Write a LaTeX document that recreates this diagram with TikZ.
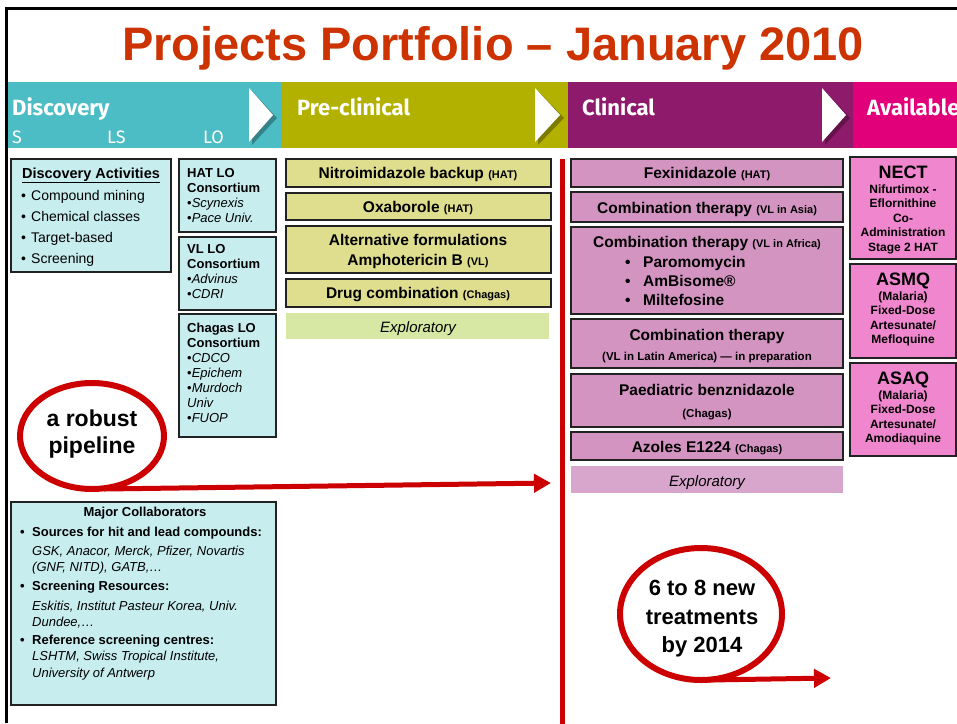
\documentclass[tikz,border=0pt]{standalone}
\usepackage{fontspec}
\setmainfont{Liberation Sans}
\newfontfamily\hdrfont{Fira Sans}
\usetikzlibrary{arrows.meta,shapes.geometric}
\definecolor{titlered}{RGB}{204,51,0}
\definecolor{tealh}{RGB}{76,189,196}
\definecolor{oliveh}{RGB}{179,177,0}
\definecolor{purpleh}{RGB}{142,26,107}
\definecolor{magentah}{RGB}{226,0,122}
\definecolor{tealfill}{RGB}{200,237,239}
\definecolor{olivefill}{RGB}{222,222,142}
\definecolor{oliveexpfill}{RGB}{214,232,164}
\definecolor{mauvefill}{RGB}{212,148,194}
\definecolor{mauveexpfill}{RGB}{216,166,204}
\definecolor{pinkfill}{RGB}{240,134,206}
\definecolor{boxline}{RGB}{34,34,34}
\definecolor{redl}{RGB}{204,0,0}
\newcommand\fsz[1]{\fontsize{#1}{#1}\selectfont}
\newcommand\bx[6]{\node[#6, anchor=north west, minimum width=#4-#2, minimum height=#5-#3] (#1) at (#2,#3) {};}
\newcommand\tx[5]{\node[anchor=#4, inner sep=0pt] (#1) at (#2,#3) {#5};}
\newcommand\bul{\makebox[10pt][l]{•}}
\newcommand\bulw{\makebox[12pt][l]{•}}
\begin{document}
\begin{tikzpicture}[x=1pt,y=-1pt,
  boxbase/.style={inner sep=0pt, outer sep=0pt},
  tealbox/.style={boxbase, draw=boxline, line width=1.3pt, fill=tealfill},
  olivebox/.style={boxbase, draw=boxline, line width=1.3pt, fill=olivefill},
  oliveexp/.style={boxbase, fill=oliveexpfill},
  mauvebox/.style={boxbase, draw=boxline, line width=1.3pt, fill=mauvefill},
  mauveexp/.style={boxbase, fill=mauveexpfill},
  pinkbox/.style={boxbase, draw=boxline, line width=1.3pt, fill=pinkfill},
  callout/.style={draw=redl, line width=6pt, ellipse, inner sep=0pt, outer sep=0pt},
  bigarrow/.style={draw=redl, line width=5pt, -{Triangle[length=17pt,width=18pt]}},
  hdrtri/.style={fill=white},
  hdrshadow/.style={fill=black, opacity=0.3}
]
\clip (0,0) rectangle (957,723);
\fill[white] (0,0) rectangle (957,723);

% frame
\draw[line width=3pt] (6,723) -- (6,8) -- (960,8);

% title
\tx{title}{493}{60}{base}{\color{titlered}\bfseries\fsz{47}Projects Portfolio – January 2010}

% header bar
\fill[tealh] (7.5,82) rectangle (282,148);
\fill[oliveh] (282,82) rectangle (568,148);
\fill[purpleh] (568,82) rectangle (853,148);
\fill[magentah] (853,82) rectangle (960,148);
\fill[hdrshadow] (252,91) -- (252,145) -- (277,118) -- cycle;
\fill[hdrtri] (249,88) -- (249,142) -- (273,115) -- cycle;
\fill[hdrshadow] (538,91) -- (538,145) -- (564,118) -- cycle;
\fill[hdrtri] (535,88) -- (535,142) -- (560,115) -- cycle;
\fill[hdrshadow] (825,91) -- (825,145) -- (850,118) -- cycle;
\fill[hdrtri] (822,88) -- (822,142) -- (846,115) -- cycle;
\tx{hdisc}{12}{115}{base west}{\color{white}\hdrfont\bfseries\fsz{22}Discovery}
\tx{hs}{12}{143}{base west}{\color{white}\hdrfont\fsz{18}S}
\tx{hls}{107}{143}{base west}{\color{white}\hdrfont\fsz{18}LS}
\tx{hlo}{203}{143}{base west}{\color{white}\hdrfont\fsz{18}LO}
\tx{hpre}{297}{115}{base west}{\color{white}\hdrfont\bfseries\fsz{22}Pre-clinical}
\tx{hclin}{582}{115}{base west}{\color{white}\hdrfont\bfseries\fsz{22}Clinical}
\tx{havail}{867}{115}{base west}{\color{white}\hdrfont\bfseries\fsz{22}Available}

% Discovery activities
\bx{da}{11}{159}{171}{272}{tealbox}
\tx{da0}{91}{178}{base}{\bfseries\fsz{14.5}\underline{Discovery Activities}}
\tx{da1}{21}{200}{base west}{\fsz{14}\bul Compound mining}
\tx{da2}{21}{221}{base west}{\fsz{14}\bul Chemical classes}
\tx{da3}{21}{242}{base west}{\fsz{14}\bul Target-based}
\tx{da4}{21}{263}{base west}{\fsz{14}\bul Screening}

% LO consortia
\bx{hat}{179}{159}{276}{232}{tealbox}
\tx{hat1}{187}{177}{base west}{\bfseries\fsz{13}HAT LO}
\tx{hat2}{187}{192}{base west}{\bfseries\fsz{13}Consortium}
\tx{hat3}{187}{207}{base west}{\fsz{13}•\textit{Scynexis}}
\tx{hat4}{187}{222}{base west}{\fsz{13}•\textit{Pace Univ.}}

\bx{vl}{179}{237}{276}{310}{tealbox}
\tx{vl1}{187}{253}{base west}{\bfseries\fsz{13}VL LO}
\tx{vl2}{187}{268}{base west}{\bfseries\fsz{13}Consortium}
\tx{vl3}{187}{283}{base west}{\fsz{13}•\textit{Advinus}}
\tx{vl4}{187}{298}{base west}{\fsz{13}•\textit{CDRI}}

\bx{chg}{179}{314}{276}{437}{tealbox}
\tx{ch1}{187}{332}{base west}{\bfseries\fsz{13}Chagas LO}
\tx{ch2}{187}{347}{base west}{\bfseries\fsz{13}Consortium}
\tx{ch3}{187}{362}{base west}{\fsz{13}•\textit{CDCO}}
\tx{ch4}{187}{377}{base west}{\fsz{13}•\textit{Epichem}}
\tx{ch5}{187}{392}{base west}{\fsz{13}•\textit{Murdoch}}
\tx{ch6}{187}{407}{base west}{\fsz{13}\textit{Univ}}
\tx{ch7}{187}{422}{base west}{\fsz{13}•\textit{FUOP}}

% Major collaborators
\bx{mc}{11}{502}{276}{705}{tealbox}
\tx{mc0}{145}{516}{base}{\bfseries\fsz{13}Major Collaborators}
\tx{mc1}{20}{536}{base west}{\bfseries\fsz{13}\bulw Sources for hit and lead compounds:}
\tx{mc2}{32}{555}{base west}{\itshape\fsz{13}GSK, Anacor, Merck, Pfizer, Novartis}
\tx{mc3}{32}{571}{base west}{\itshape\fsz{13}(GNF, NITD), GATB,…}
\tx{mc4}{20}{590}{base west}{\bfseries\fsz{13}\bulw Screening Resources:}
\tx{mc5}{32}{610}{base west}{\itshape\fsz{13}Eskitis, Institut Pasteur Korea, Univ.}
\tx{mc6}{32}{626}{base west}{\itshape\fsz{13}Dundee,…}
\tx{mc7}{20}{644}{base west}{\bfseries\fsz{13}\bulw Reference screening centres:}
\tx{mc8}{32}{660}{base west}{\itshape\fsz{13}LSHTM, Swiss Tropical Institute,}
\tx{mc9}{32}{677}{base west}{\itshape\fsz{13}University of Antwerp}

% Pre-clinical
\bx{p1}{286}{159}{551}{187}{olivebox}
\tx{p1t}{418}{178}{base}{\bfseries\fsz{15.5}Nitroimidazole backup {\fsz{11}(HAT)}}
\bx{p2}{286}{193}{551}{220}{olivebox}
\tx{p2t}{418}{212}{base}{\bfseries\fsz{15.5}Oxaborole {\fsz{11}(HAT)}}
\bx{p3}{286}{226}{551}{273}{olivebox}
\tx{p3a}{418}{245}{base}{\bfseries\fsz{15.5}Alternative formulations}
\tx{p3b}{418}{265}{base}{\bfseries\fsz{15.5}Amphotericin B {\fsz{11}(VL)}}
\bx{p4}{286}{279}{551}{307}{olivebox}
\tx{p4t}{418}{298}{base}{\bfseries\fsz{15.5}Drug combination {\fsz{11}(Chagas)}}
\bx{p5}{286}{313}{549}{339}{oliveexp}
\tx{p5t}{418}{332}{base}{\itshape\fsz{15}Exploratory}

% red divider
\coordinate (vtop) at (562,159);
\coordinate (vbot) at (562,725);
\draw[redl, line width=5pt] (vtop) -- (vbot);

% Clinical
\bx{c1}{571}{159}{843}{187}{mauvebox}
\tx{c1t}{707}{178}{base}{\bfseries\fsz{15.5}Fexinidazole {\fsz{11}(HAT)}}
\bx{c2}{571}{192}{843}{222}{mauvebox}
\tx{c2t}{707}{213}{base}{\bfseries\fsz{15.5}Combination therapy {\fsz{11}(VL in Asia)}}
\bx{c3}{571}{227}{843}{314}{mauvebox}
\tx{c3t}{707}{247}{base}{\bfseries\fsz{15.5}Combination therapy {\fsz{11}(VL in Africa)}}
\tx{c3a}{625}{267}{base west}{\bfseries\fsz{15.5}\makebox[18pt][l]{•}Paromomycin}
\tx{c3b}{625}{286}{base west}{\bfseries\fsz{15.5}\makebox[18pt][l]{•}AmBisome®}
\tx{c3c}{625}{305}{base west}{\bfseries\fsz{15.5}\makebox[18pt][l]{•}Miltefosine}
\bx{c4}{571}{319}{843}{368}{mauvebox}
\tx{c4a}{707}{340}{base}{\bfseries\fsz{15.5}Combination therapy}
\tx{c4b}{707}{360}{base}{\bfseries\fsz{11.5}(VL in Latin America) — in preparation}
\bx{c5}{571}{374}{843}{427}{mauvebox}
\tx{c5a}{707}{395}{base}{\bfseries\fsz{15.5}Paediatric benznidazole}
\tx{c5b}{707}{417}{base}{\bfseries\fsz{11.5}(Chagas)}
\bx{c6}{571}{432}{843}{460}{mauvebox}
\tx{c6t}{707}{452}{base}{\bfseries\fsz{15.5}Azoles E1224 {\fsz{11}(Chagas)}}
\bx{c7}{571}{466}{843}{493}{mauveexp}
\tx{c7t}{707}{486}{base}{\itshape\fsz{15}Exploratory}

% Available
\bx{a1}{850}{157}{956}{259}{pinkbox}
\tx{a1a}{903}{178}{base}{\bfseries\fsz{18}NECT}
\tx{a1b}{903}{193}{base}{\bfseries\fsz{12}Nifurtimox -}
\tx{a1c}{903}{207.5}{base}{\bfseries\fsz{12}Eflornithine}
\tx{a1d}{903}{222}{base}{\bfseries\fsz{12}Co-}
\tx{a1e}{903}{236.5}{base}{\bfseries\fsz{12}Administration}
\tx{a1f}{903}{251}{base}{\bfseries\fsz{12}Stage 2 HAT}
\bx{a2}{850}{264}{956}{358}{pinkbox}
\tx{a2a}{903}{285}{base}{\bfseries\fsz{18}ASMQ}
\tx{a2b}{903}{300}{base}{\bfseries\fsz{12}(Malaria)}
\tx{a2c}{903}{314.5}{base}{\bfseries\fsz{12}Fixed-Dose}
\tx{a2d}{903}{329}{base}{\bfseries\fsz{12}Artesunate/}
\tx{a2e}{903}{343.5}{base}{\bfseries\fsz{12}Mefloquine}
\bx{a3}{850}{363}{956}{456}{pinkbox}
\tx{a3a}{903}{384}{base}{\bfseries\fsz{18}ASAQ}
\tx{a3b}{903}{399}{base}{\bfseries\fsz{12}(Malaria)}
\tx{a3c}{903}{413.5}{base}{\bfseries\fsz{12}Fixed-Dose}
\tx{a3d}{903}{428}{base}{\bfseries\fsz{12}Artesunate/}
\tx{a3e}{903}{442.5}{base}{\bfseries\fsz{12}Amodiaquine}

% callouts
\node[callout, minimum width=144pt, minimum height=106pt] (e1) at (92,436) {};
\tx{e1a}{92}{426}{base}{\bfseries\fsz{23}a robust}
\tx{e1b}{92}{453}{base}{\bfseries\fsz{23}pipeline}
\coordinate (t1) at (551,483);
\draw[bigarrow] ([xshift=12pt]e1.south) -- (t1);

\node[callout, minimum width=162pt, minimum height=132pt] (e2) at (701,614) {};
\tx{e2a}{702}{595}{base}{\bfseries\fsz{22}6 to 8 new}
\tx{e2b}{702}{624}{base}{\bfseries\fsz{22}treatments}
\tx{e2c}{702}{652}{base}{\bfseries\fsz{22}by 2014}
\coordinate (t2) at (831,678);
\draw[bigarrow] ([xshift=8pt]e2.south) -- (t2);
\end{tikzpicture}
\end{document}
